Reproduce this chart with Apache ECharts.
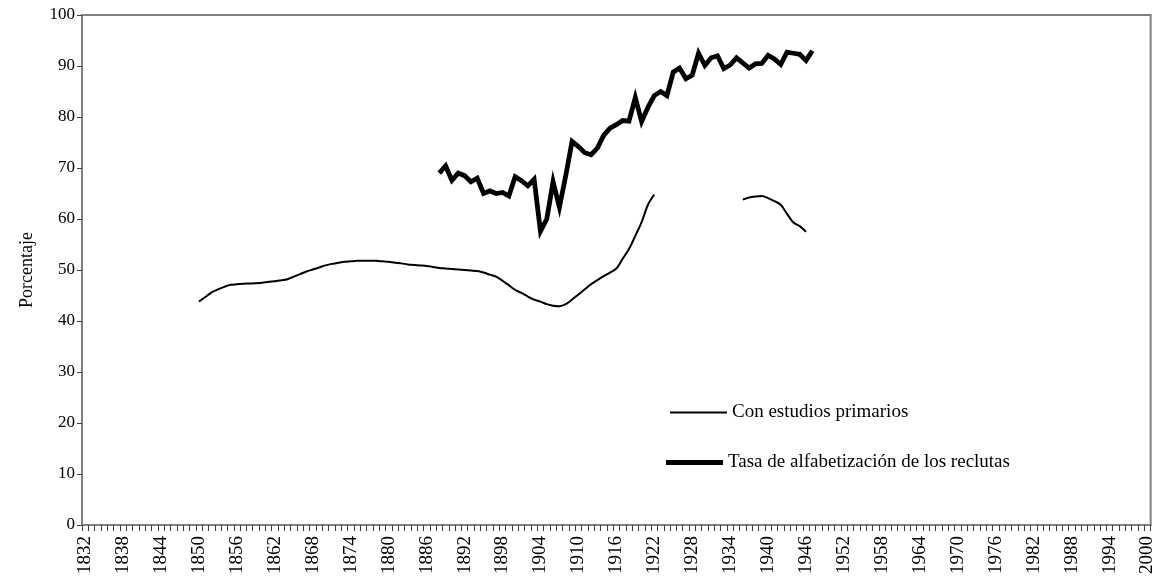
<!DOCTYPE html>
<html>
<head>
<meta charset="utf-8">
<script src="https://cdn.jsdelivr.net/npm/echarts@6/dist/echarts.min.js"></script>
<style>
html, body { margin: 0; padding: 0; background: #fff; }
#chart { width: 1157px; height: 585px; }
</style>
</head>
<body>
<div id="chart"></div>
<script>
var firstYear = 1832;
var lastYear = 2000;
var years = [];
for (var y = firstYear; y <= lastYear; y++) years.push(String(y));

// Con estudios primarios, 1850-1946 (gap 1923-1935)
var primariosStart = 1850;
var primarios = [
    43.8, 44.7, 45.6, 46.2, 46.7, 47.1, 47.2, 47.3, 47.35, 47.4,
    47.5, 47.7, 47.8, 48.0, 48.2, 48.7, 49.2, 49.7, 50.1, 50.5,
    50.9, 51.2, 51.4, 51.6, 51.7, 51.8, 51.8, 51.8, 51.8, 51.7,
    51.6, 51.4, 51.3, 51.1, 51.0, 50.9, 50.8, 50.6, 50.4, 50.3,
    50.2, 50.1, 50.0, 49.9, 49.8, 49.5, 49.1, 48.7, 47.9, 47.0,
    46.1, 45.5, 44.8, 44.2, 43.8, 43.3, 43.0, 42.9, 43.3, 44.2,
    45.2, 46.2, 47.2, 48.0, 48.8, 49.5, 50.3, 52.2, 54.1, 56.7,
    59.4, 62.8, 64.8,
    null, null, null, null, null, null, null, null, null, null, null, null, null,
    63.8, 64.2, 64.4, 64.5, 64.1, 63.5, 62.8, 61.0, 59.3, 58.6, 57.5
];

// Tasa de alfabetización de los reclutas, 1888-1947
var reclutasStart = 1888;
var reclutas = [
    69.0, 70.4, 67.6, 69.0, 68.5, 67.3, 68.0, 65.0, 65.5, 65.0,
    65.2, 64.5, 68.3, 67.5, 66.5, 67.8, 57.6, 60.0, 67.3, 62.3,
    68.5, 75.2, 74.2, 73.0, 72.6, 73.9, 76.4, 77.8, 78.5, 79.3,
    79.2, 83.8, 79.1, 81.9, 84.2, 85.0, 84.2, 88.8, 89.6, 87.5,
    88.2, 92.5, 90.1, 91.6, 92.0, 89.5, 90.2, 91.6, 90.6, 89.6,
    90.4, 90.5, 92.1, 91.4, 90.3, 92.7, 92.5, 92.3, 91.1, 93.0
];

var yMin = 0, yMax = 100, yStep = 10;

function onYears(start, values) {
    var out = years.map(function () { return null; });
    values.forEach(function (v, i) { out[start - firstYear + i] = v; });
    return out;
}

var font = '"Liberation Serif", "DejaVu Serif", serif';
var axisGray = '#808080';
var legendText = { fontFamily: font, fontSize: 19, color: '#000' };

var chart = echarts.init(document.getElementById('chart'));
chart.setOption({
    animation: false,
    backgroundColor: '#fff',
    grid: {
        left: 82,
        right: 5,
        top: 15,
        bottom: 60,
        show: true,
        borderColor: axisGray,
        borderWidth: 2
    },
    // two legends so each sample line keeps its own thickness
    legend: [{
        orient: 'vertical',
        left: 670,
        top: 403,
        padding: 0,
        icon: 'rect',
        itemWidth: 57,
        itemHeight: 2,
        textStyle: legendText,
        data: ['Con estudios primarios']
    }, {
        orient: 'vertical',
        left: 666,
        top: 453,
        padding: 0,
        icon: 'rect',
        itemWidth: 57,
        itemHeight: 5,
        textStyle: legendText,
        data: ['Tasa de alfabetización de los reclutas']
    }],
    xAxis: {
        type: 'category',
        data: years,
        boundaryGap: true,
        axisLine: { lineStyle: { color: axisGray, width: 2 } },
        axisTick: { show: true, interval: 0, length: 6, lineStyle: { color: '#404040', width: 1 } },
        axisLabel: {
            interval: 5,
            rotate: 90,
            margin: 11,
            fontFamily: font,
            fontSize: 19,
            color: '#000'
        },
        splitLine: { show: false }
    },
    yAxis: {
        type: 'value',
        min: yMin,
        max: yMax,
        interval: yStep,
        name: 'Porcentaje',
        nameLocation: 'middle',
        nameGap: 46,
        nameTextStyle: { fontFamily: font, fontSize: 18, color: '#000' },
        axisLine: { show: true, lineStyle: { color: axisGray, width: 2 } },
        axisTick: { show: true, length: 5, lineStyle: { color: '#404040', width: 1 } },
        axisLabel: { margin: 7, fontFamily: font, fontSize: 17, color: '#000' },
        splitLine: { show: false }
    },
    series: [{
        name: 'Con estudios primarios',
        type: 'line',
        data: onYears(primariosStart, primarios),
        symbol: 'none',
        smooth: 0.3,
        connectNulls: false,
        lineStyle: { color: '#000', width: 2 },
        itemStyle: { color: '#000' }
    }, {
        name: 'Tasa de alfabetización de los reclutas',
        type: 'line',
        data: onYears(reclutasStart, reclutas),
        symbol: 'none',
        lineStyle: { color: '#000', width: 4.8, join: 'miter' },
        itemStyle: { color: '#000' }
    }]
});
</script>
</body>
</html>
